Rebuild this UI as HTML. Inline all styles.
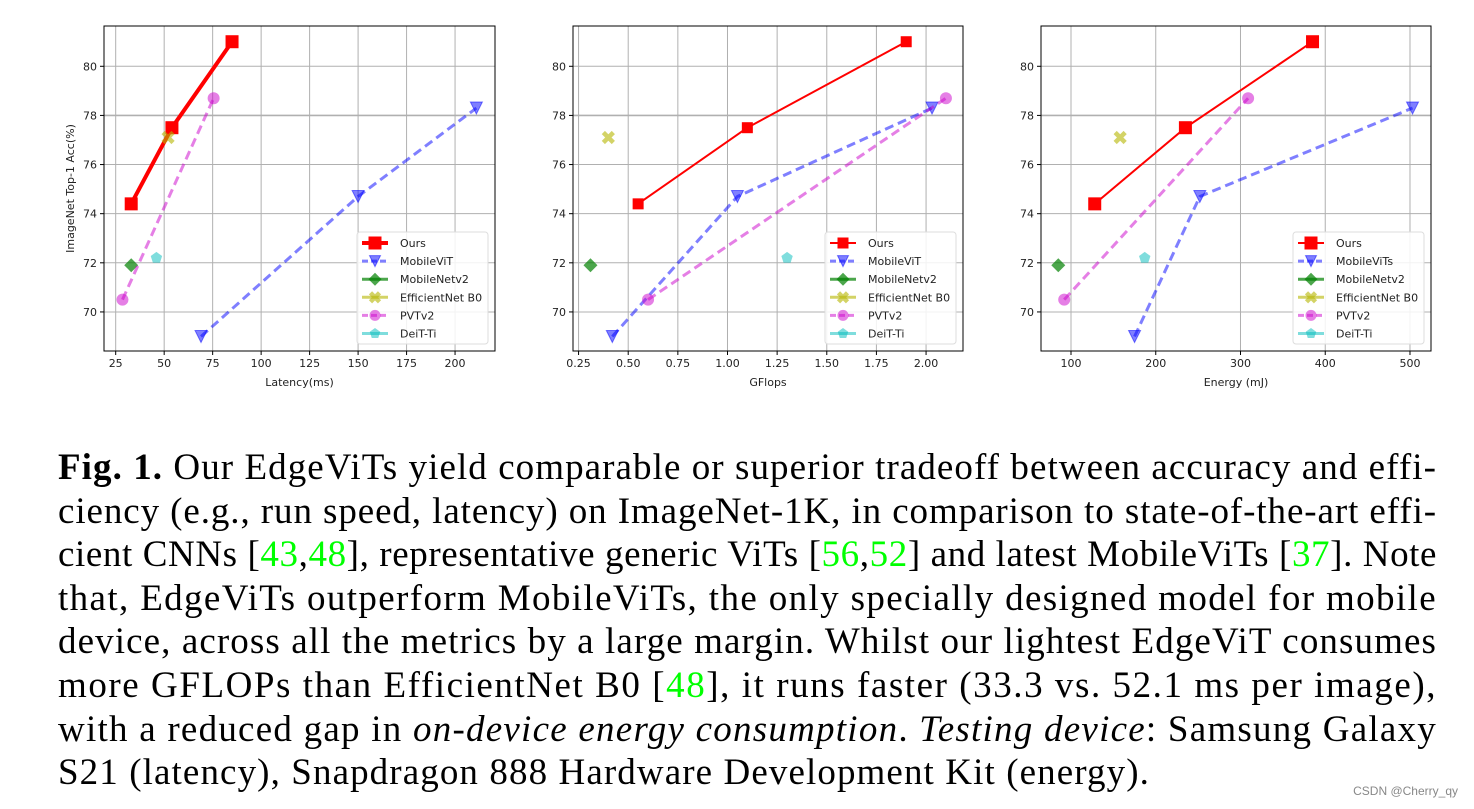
<!DOCTYPE html>
<html><head><meta charset="utf-8">
<style>
body{margin:0;width:1474px;height:809px;background:#fff;overflow:hidden;position:relative;font-family:"DejaVu Sans","Liberation Sans",sans-serif}
#charts{position:absolute;left:0;top:0}
#caption{position:absolute;left:58px;top:446px;width:1400px;font-family:"Liberation Serif",serif;font-size:37px;line-height:43.6px;color:#000}
.ln{white-space:nowrap;height:43.6px}
.ln span.t{display:inline-block;white-space:nowrap}
.g{color:#00ff00}
#wm{position:absolute;right:16px;top:784px;font-size:12px;color:#888;font-family:"Liberation Sans","Noto Sans CJK SC",sans-serif}
</style></head><body>
<svg id="charts" width="1474" height="420"></svg>
<div id="caption">
<div class="ln"><span class="t" data-w="1379"><b>Fig. 1.</b> Our EdgeViTs yield comparable or superior tradeoff between accuracy and effi-</span></div>
<div class="ln"><span class="t" data-w="1379">ciency (e.g., run speed, latency) on ImageNet-1K, in comparison to state-of-the-art effi-</span></div>
<div class="ln"><span class="t" data-w="1379">cient CNNs [<span class="g">43</span>,<span class="g">48</span>], representative generic ViTs [<span class="g">56</span>,<span class="g">52</span>] and latest MobileViTs [<span class="g">37</span>]. Note</span></div>
<div class="ln"><span class="t" data-w="1379">that, EdgeViTs outperform MobileViTs, the only specially designed model for mobile</span></div>
<div class="ln"><span class="t" data-w="1379">device, across all the metrics by a large margin. Whilst our lightest EdgeViT consumes</span></div>
<div class="ln"><span class="t" data-w="1379">more GFLOPs than EfficientNet B0 [<span class="g">48</span>], it runs faster (33.3 vs. 52.1 ms per image),</span></div>
<div class="ln"><span class="t" data-w="1379">with a reduced gap in <i>on-device energy consumption</i>. <i>Testing device</i>: Samsung Galaxy</span></div>
<div class="ln"><span class="t" data-w="1092">S21 (latency), Snapdragon 888 Hardware Development Kit (energy).</span></div>
</div>
<div id="wm">CSDN @Cherry_qy</div>
<script>
const accOurs=[74.4,77.5,81.0];
const accMobileViT=[69.0,74.7,78.3];
const accPVT=[70.5,78.7];
const accMobileNet=[71.9];
const accEff=[77.1];
const accDeiT=[72.2];
const latOurs=[33,54,85];
const latMobileViT=[69,150,211];
const latPVT=[28.5,75.5];
const latMobileNet=[33];
const latEff=[52];
const latDeiT=[46];
const flopOurs=[0.55,1.1,1.9];
const flopMobileViT=[0.42,1.05,2.03];
const flopPVT=[0.6,2.1];
const flopMobileNet=[0.31];
const flopEff=[0.40];
const flopDeiT=[1.3];
const enOurs=[128,235,385];
const enMobileViT=[175,252,503];
const enPVT=[92,309];
const enMobileNet=[85];
const enEff=[158];
const enDeiT=[187];
const yTicks=[70,72,74,76,78,80];
const latTicks=[25,50,75,100,125,150,175,200];
const flopTicks=["0.25","0.50","0.75","1.00","1.25","1.50","1.75","2.00"];
const enTicks=[100,200,300,400,500];
const legendNames1=["Ours","MobileViT","MobileNetv2","EfficientNet B0","PVTv2","DeiT-Ti"];
const legendNames3=["Ours","MobileViTs","MobileNetv2","EfficientNet B0","PVTv2","DeiT-Ti"];

document.querySelectorAll('#caption .t').forEach(s=>{
 const target=+s.getAttribute('data-w');const w=s.getBoundingClientRect().width;
 const n=s.textContent.length;s.style.letterSpacing=((target-w)/n)+'px';
});

const NS="http://www.w3.org/2000/svg";
const svg=document.getElementById('charts');
function mk(tag,attrs,parent){const e=document.createElementNS(NS,tag);for(const k in attrs)e.setAttribute(k,attrs[k]);(parent||svg).appendChild(e);return e;}

const styles={
 ours:{c:'#ff0000',m:'square',dash:null,op:1},
 mvit:{c:'#0000ff',m:'tri',dash:'9,5',op:0.5},
 mnet:{c:'#008000',m:'diamond',dash:null,op:0.7},
 eff:{c:'#b5b500',m:'x',dash:null,op:0.6},
 pvt:{c:'#cc00cc',m:'circle',dash:'9,5',op:0.5},
 deit:{c:'#00bbbb',m:'pent',dash:null,op:0.5}
};
function marker(g,type,x,y,s,color,op){
 let e;
 if(type==='square')e=mk('rect',{x:x-s/2,y:y-s/2,width:s,height:s,fill:color,'fill-opacity':op},g);
 else if(type==='circle')e=mk('circle',{cx:x,cy:y,r:s/2,fill:color,'fill-opacity':op},g);
 else if(type==='tri')e=mk('polygon',{points:`${x-s/2},${y-s/2} ${x+s/2},${y-s/2} ${x},${y+s/2}`,fill:color,'fill-opacity':op,stroke:color,'stroke-opacity':op},g);
 else if(type==='diamond')e=mk('polygon',{points:`${x},${y-s/2-1} ${x+s/2+1},${y} ${x},${y+s/2+1} ${x-s/2-1},${y}`,fill:color,'fill-opacity':op},g);
 else if(type==='x'){const a=s/2-1;e=mk('path',{d:`M${x-a},${y-a}L${x+a},${y+a}M${x+a},${y-a}L${x-a},${y+a}`,stroke:color,'stroke-width':4.5,'stroke-opacity':op},g);}
 else if(type==='pent'){let p=[];for(let i=0;i<5;i++){const t=-Math.PI/2+i*2*Math.PI/5;p.push((x+s/2*Math.cos(t))+','+(y+s/2*Math.sin(t)));}e=mk('polygon',{points:p.join(' '),fill:color,'fill-opacity':op},g);}
 return e;
}

function chart(cfg){
 const g=mk('g',{});
 
 
 const L=cfg.L,R=cfg.R,T=26,B=351;
 const xs=v=>L+(v-cfg.xmin)/(cfg.xmax-cfg.xmin)*(R-L);
 const ys=v=>B-(v-68.41)/(81.64-68.41)*(B-T);
 cfg.xt.forEach(t=>{const x=xs(+t);mk('line',{x1:x,x2:x,y1:T,y2:B,stroke:'#b0b0b0','stroke-width':1},g);
   const tk=mk('text',{x:x,y:B+16,'font-size':11,'text-anchor':'middle',fill:'#222'},g);tk.textContent=t;
   
   mk('line',{x1:x,x2:x,y1:B,y2:B+4,stroke:'#000'},g);});
 yTicks.forEach(t=>{const y=ys(t);mk('line',{x1:L,x2:R,y1:y,y2:y,stroke:'#b0b0b0','stroke-width':t===78?1.6:1},g);
   const tk=mk('text',{x:L-7,y:y+4,'font-size':11,'text-anchor':'end',fill:'#222'},g);tk.textContent=t;
   
   mk('line',{x1:L-4,x2:L,y1:y,y2:y,stroke:'#000'},g);});
 const xl=mk('text',{x:(L+R)/2,y:B+35,'font-size':11,'text-anchor':'middle',fill:'#222'},g);xl.textContent=cfg.xlabel;
 
 if(cfg.ylabel){const yl=mk('text',{x:0,y:0,'font-size':11,'text-anchor':'middle',fill:'#222',transform:`translate(${L-30},${(T+B)/2}) rotate(-90)`},g);yl.textContent=cfg.ylabel;
  }
 const series=[['ours',cfg.ours,accOurs],['mvit',cfg.mvit,accMobileViT],['mnet',cfg.mnet,accMobileNet],['eff',cfg.eff,accEff],['pvt',cfg.pvt,accPVT],['deit',cfg.deit,accDeiT]];
 series.forEach(([k,xv,yv])=>{
  const st=styles[k];const sg=mk('g',{},g);
  
  if(xv.length>1){const pts=xv.map((v,i)=>xs(v)+','+ys(yv[i])).join(' ');
   const a={points:pts,fill:'none',stroke:st.c,'stroke-width':k==='ours'?cfg.ourW:3,'stroke-opacity':k==='ours'?1:st.op};
   if(st.dash)a['stroke-dasharray']=st.dash;mk('polyline',a,sg);}
  xv.forEach((v,i)=>{const m=marker(sg,st.m,xs(v),ys(yv[i]),k==='ours'?cfg.ourS:12,st.c,st.op);
   });
 });
 mk('rect',{x:L,y:T,width:R-L,height:B-T,fill:'none',stroke:'#000','stroke-width':1},g);
 const lx=R-cfg.legW-7,ly=232;
 const lg=mk('g',{},g);
 mk('rect',{x:lx,y:ly,width:cfg.legW,height:112,rx:3,fill:'#fff','fill-opacity':0.85,stroke:'#ddd'},lg);
 ['ours','mvit','mnet','eff','pvt','deit'].forEach((k,i)=>{
  const st=styles[k];const y=ly+11+i*18.1;
  const a={x1:lx+5,x2:lx+31,y1:y,y2:y,stroke:st.c,'stroke-width':k==='ours'?cfg.ourW:3,'stroke-opacity':k==='ours'?1:st.op};
  if(st.dash)a['stroke-dasharray']='6,3';mk('line',a,lg);
  marker(lg,st.m,lx+18,y,k==='ours'?cfg.ourS:11,st.c,st.op);
  const t=mk('text',{x:lx+43,y:y+4,'font-size':11,fill:'#222'},lg);t.textContent=cfg.names[i];
  
 });
}
chart({name:'latency-chart',L:104,R:495,xmin:18.97,xmax:220.6,xt:latTicks,xlabel:'Latency(ms)',ylabel:'ImageNet Top-1 Acc(%)',
 ours:latOurs,mvit:latMobileViT,mnet:latMobileNet,eff:latEff,pvt:latPVT,deit:latDeiT,ourW:4,ourS:13,legW:131,names:legendNames1});
chart({name:'gflops-chart',L:573,R:963,xmin:0.222,xmax:2.186,xt:flopTicks,xlabel:'GFlops',
 ours:flopOurs,mvit:flopMobileViT,mnet:flopMobileNet,eff:flopEff,pvt:flopPVT,deit:flopDeiT,ourW:2,ourS:11,legW:131,names:legendNames1});
chart({name:'energy-chart',L:1041,R:1431,xmin:64.6,xmax:524.8,xt:enTicks,xlabel:'Energy (mJ)',
 ours:enOurs,mvit:enMobileViT,mnet:enMobileNet,eff:enEff,pvt:enPVT,deit:enDeiT,ourW:2,ourS:13,legW:131,names:legendNames3});
</script>
</body></html>
